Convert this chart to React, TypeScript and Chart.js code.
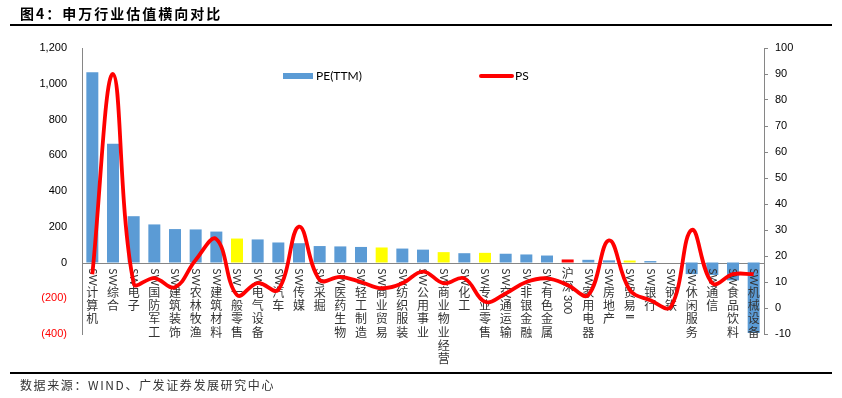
import React, { useEffect, useRef } from "react";
import { Chart, registerables } from "chart.js";

Chart.register(...registerables);

const categories = [
  "SW计算机", "SW综合", "SW电子", "SW国防军工", "SW建筑装饰", "SW农林牧渔", "SW建筑材料",
  "SW一般零售", "SW电气设备", "SW汽车", "SW传媒", "SW采掘", "SW医药生物", "SW轻工制造",
  "SW商业贸易", "SW纺织服装", "SW公用事业", "SW商业物业经营", "SW化工", "SW专业零售",
  "SW交通运输", "SW非银金融", "SW有色金属", "沪深300", "SW家用电器", "SW房地产", "SW贸易Ⅱ",
  "SW银行", "SW钢铁", "SW休闲服务", "SW通信", "SW食品饮料", "SW机械设备",
];

const peValues = [
  1065, 664, 259, 213, 187, 185, 173, 134, 129, 112, 108, 92, 90, 87, 84, 78, 72, 58, 52, 54,
  49, 45, 39, 17, 15, 12, 11, 8, 0, -65, -70, -100, -395,
];

const psValues = [
  13, 90, 9.5, 11.5, 8, 18.5, 26.5, 5, 9.6, 7, 31.3, 10.8, 12, 10, 7.6, 9.5, 14, 9.5, 11.4, 2.4,
  5.6, 10, 11.4, 8.8, 5, 26, 7, 3, 0.5, 30, 9.5, 13, 13,
];

const yellowCategories = ["SW一般零售", "SW商业贸易", "SW商业物业经营", "SW专业零售", "SW贸易Ⅱ"];
const benchmarkCategory = "沪深300";

const seriesNames = ["PE(TTM)", "PS"];

const BLUE = "#5B9BD5";
const YELLOW = "#FFFF00";
const RED = "#FF0000";
const AXIS = "#868686";

function formatLeft(v: number) {
  const abs = Math.abs(v).toLocaleString("en-US");
  return v < 0 ? `(${abs})` : abs;
}

function drawVerticalLabel(ctx: CanvasRenderingContext2D, text: string, x: number, yStart: number) {
  const tokens = text.match(/[A-Za-z0-9Ⅱ]+|./gu) || [];
  let y = yStart;
  for (const tok of tokens) {
    if (/^[A-Za-z0-9Ⅱ]+$/.test(tok)) {
      ctx.save();
      ctx.font = "11px Lato, 'Liberation Sans', sans-serif";
      ctx.translate(x, y);
      ctx.rotate(Math.PI / 2);
      ctx.textAlign = "left";
      ctx.textBaseline = "middle";
      ctx.fillText(tok, 0, 0);
      const w = ctx.measureText(tok).width;
      ctx.restore();
      y += w + 1.5;
    } else {
      ctx.save();
      ctx.font = "12px 'Noto Sans CJK SC', sans-serif";
      ctx.textAlign = "center";
      ctx.textBaseline = "top";
      ctx.fillText(tok, x, y - 1);
      ctx.restore();
      y += 13.3;
    }
  }
}

const customPlugin = {
  id: "customDecor",
  beforeDatasetsDraw(chart: any) {
    const { ctx, chartArea } = chart;
    const yScale = chart.scales.y;
    const y0 = Math.round(yScale.getPixelForValue(0)) + 0.5;
    ctx.save();
    ctx.strokeStyle = AXIS;
    ctx.lineWidth = 1;
    ctx.beginPath();
    ctx.moveTo(chartArea.left, y0);
    ctx.lineTo(chartArea.right, y0);
    ctx.stroke();
    ctx.restore();
  },
  afterDatasetDraw(chart: any, args: any) {
    if (args.index !== 0) return;
    const { ctx } = chart;
    const xScale = chart.scales.x;
    const yScale = chart.scales.y;
    const y0 = yScale.getPixelForValue(0);
    ctx.save();
    ctx.fillStyle = "#333333";
    categories.forEach((c, i) => {
      drawVerticalLabel(ctx, c, xScale.getPixelForValue(i), y0 + 6);
    });
    ctx.restore();
  },
  afterDraw(chart: any) {
    const { ctx } = chart;
    ctx.save();
    ctx.fillStyle = BLUE;
    ctx.fillRect(283, 73, 30, 6);
    ctx.fillStyle = "#000";
    ctx.font = "12px Lato, 'Liberation Sans', sans-serif";
    ctx.textBaseline = "middle";
    ctx.textAlign = "left";
    ctx.fillText(seriesNames[0], 316, 76);
    ctx.strokeStyle = RED;
    ctx.lineWidth = 4;
    ctx.lineCap = "round";
    ctx.beginPath();
    ctx.moveTo(481, 76);
    ctx.lineTo(512, 76);
    ctx.stroke();
    ctx.fillText(seriesNames[1], 515, 76);
    ctx.restore();
  },
};

export default function App() {
  const canvasRef = useRef<HTMLCanvasElement | null>(null);

  useEffect(() => {
    if (!canvasRef.current) return;
    const barColors = categories.map((c) =>
      c === benchmarkCategory ? RED : yellowCategories.includes(c) ? YELLOW : BLUE
    );
    const chart = new Chart(canvasRef.current, {
      type: "bar",
      data: {
        labels: categories,
        datasets: [
          {
            type: "bar",
            label: seriesNames[0],
            data: peValues,
            backgroundColor: barColors,
            yAxisID: "y",
            categoryPercentage: 1,
            barPercentage: 0.58,
            order: 2,
          },
          {
            type: "line",
            label: seriesNames[1],
            data: psValues,
            borderColor: RED,
            borderWidth: 3.8,
            pointRadius: 0,
            tension: 0.4,
            yAxisID: "y1",
            order: 1,
          } as any,
        ],
      },
      options: {
        responsive: false,
        animation: false,
        layout: { padding: { top: 48, bottom: 64, left: 0, right: 0 } },
        plugins: { legend: { display: false }, tooltip: { enabled: false } },
        scales: {
          x: {
            display: false,
            offset: true,
          },
          y: {
            position: "left",
            min: -400,
            max: 1200,
            afterFit: (s: any) => {
              s.width = 82;
            },
            border: { display: true, color: AXIS, width: 1 },
            grid: { display: false, drawTicks: false },
            ticks: {
              stepSize: 200,
              padding: 15,
              font: { family: "'Liberation Sans', sans-serif", size: 11 },
              color: (ctx: any) => (ctx.tick && ctx.tick.value < 0 ? RED : "#000"),
              callback: (v: any) => formatLeft(Number(v)),
            },
          },
          y1: {
            position: "right",
            min: -10,
            max: 100,
            afterFit: (s: any) => {
              s.width = 78;
            },
            border: { display: true, color: AXIS, width: 1 },
            grid: { display: true, drawOnChartArea: false, drawTicks: true, tickLength: 4, color: AXIS },
            ticks: {
              stepSize: 10,
              padding: 7,
              font: { family: "'Liberation Sans', sans-serif", size: 11 },
              color: "#000",
            },
          },
        },
      },
      plugins: [customPlugin],
    });
    return () => chart.destroy();
  }, []);

  return (
    <div style={{ position: "absolute", left: 0, top: 0, width: 842, height: 398, background: "#fff", overflow: "hidden" }}>
      <canvas ref={canvasRef} width={842} height={398} style={{ position: "absolute", left: 0, top: 0, width: 842, height: 398 }} />
      <div
        style={{
          position: "absolute",
          left: 20,
          top: 5,
          fontFamily: "'Noto Sans CJK SC', sans-serif",
          fontWeight: "bold",
          fontSize: 14,
          lineHeight: "16px",
          letterSpacing: "2px",
          color: "#000",
          whiteSpace: "nowrap",
        }}
      >
        图4：申万行业估值横向对比
      </div>
      <div style={{ position: "absolute", left: 10, top: 24, width: 822, height: 2, background: "#000" }} />
      <div style={{ position: "absolute", left: 10, top: 372, width: 822, height: 2, background: "#000" }} />
      <div
        style={{
          position: "absolute",
          left: 20,
          top: 377,
          fontFamily: "'Noto Sans CJK SC', sans-serif",
          fontSize: 12,
          lineHeight: "16px",
          letterSpacing: "1.6px",
          color: "#333",
          whiteSpace: "nowrap",
        }}
      >
        数据来源：WIND、广发证券发展研究中心
      </div>
    </div>
  );
}
